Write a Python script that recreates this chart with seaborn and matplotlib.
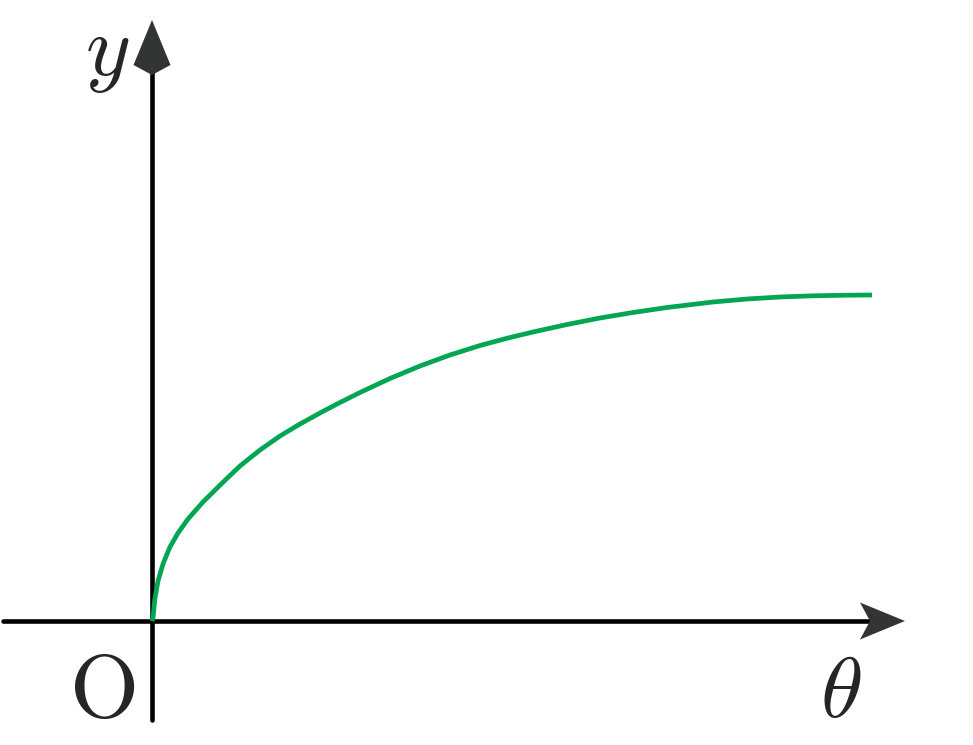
import matplotlib
matplotlib.use("Agg")
import matplotlib.pyplot as plt
import seaborn as sns
import pandas as pd
from matplotlib.patches import Polygon

# curve data
theta = [0.0, 0.01, 0.027, 0.06, 0.11, 0.177, 0.26, 0.36, 0.51, 0.697, 0.88,
         1.08, 1.28, 1.48, 1.68, 1.86, 2.08, 2.38, 2.68, 2.98, 3.28, 3.56,
         3.81, 4.15, 4.48, 4.81, 5.15, 5.61, 5.95, 6.28, 6.61, 6.95, 7.20]
y_vals = [0.0, 0.03, 0.21, 0.40, 0.57, 0.735, 0.88, 1.02, 1.19, 1.375, 1.55,
          1.71, 1.85, 1.97, 2.08, 2.175, 2.285, 2.425, 2.55, 2.66, 2.755, 2.83,
          2.89, 2.965, 3.03, 3.085, 3.135, 3.19, 3.22, 3.24, 3.252, 3.258, 3.26]
labels = {"x": r"$\theta$", "y": r"$y$", "origin": r"$\mathrm{O}$"}

sns.set_theme(style="white")
plt.rcParams["mathtext.fontset"] = "cm"

fig = plt.figure(figsize=(9.73, 7.45), dpi=100)
ax = fig.add_axes([0, 0, 1, 1])
ax.set_xlim(-1.52, 8.21)
ax.set_ylim(-1.24, 6.21)
ax.axis("off")

df = pd.DataFrame({"theta": theta, "y": y_vals})
sns.lineplot(data=df, x="theta", y="y", ax=ax, color="#00a651", lw=3.4,
             sort=False, zorder=4, estimator=None,
             solid_joinstyle="round", solid_capstyle="butt")

# axes
ax.plot([-1.49, 7.2], [0, 0], color="black", lw=3.3, solid_capstyle="round", zorder=3)
ax.plot([0, 0], [-0.99, 5.5], color="black", lw=3.3, solid_capstyle="round", zorder=3)
arrow_col = "#333535"
ax.add_patch(Polygon([(7.53, 0), (7.08, 0.185), (7.18, 0), (7.08, -0.185)],
                     closed=True, color=arrow_col, zorder=5, lw=0))
ax.add_patch(Polygon([(0, 6.01), (-0.185, 5.56), (0, 5.46), (0.185, 5.56)],
                     closed=True, color=arrow_col, zorder=5, lw=0))

fs = 62
ax.text(-0.50, -0.96, labels["origin"], fontsize=fs + 2, ha="center", va="baseline")
ax.text(6.89, -0.96, labels["x"], fontsize=fs, ha="center", va="baseline")
ax.text(-0.45, 5.46, labels["y"], fontsize=fs, ha="center", va="baseline")

fig.savefig("out.png", dpi=100, facecolor="white")
